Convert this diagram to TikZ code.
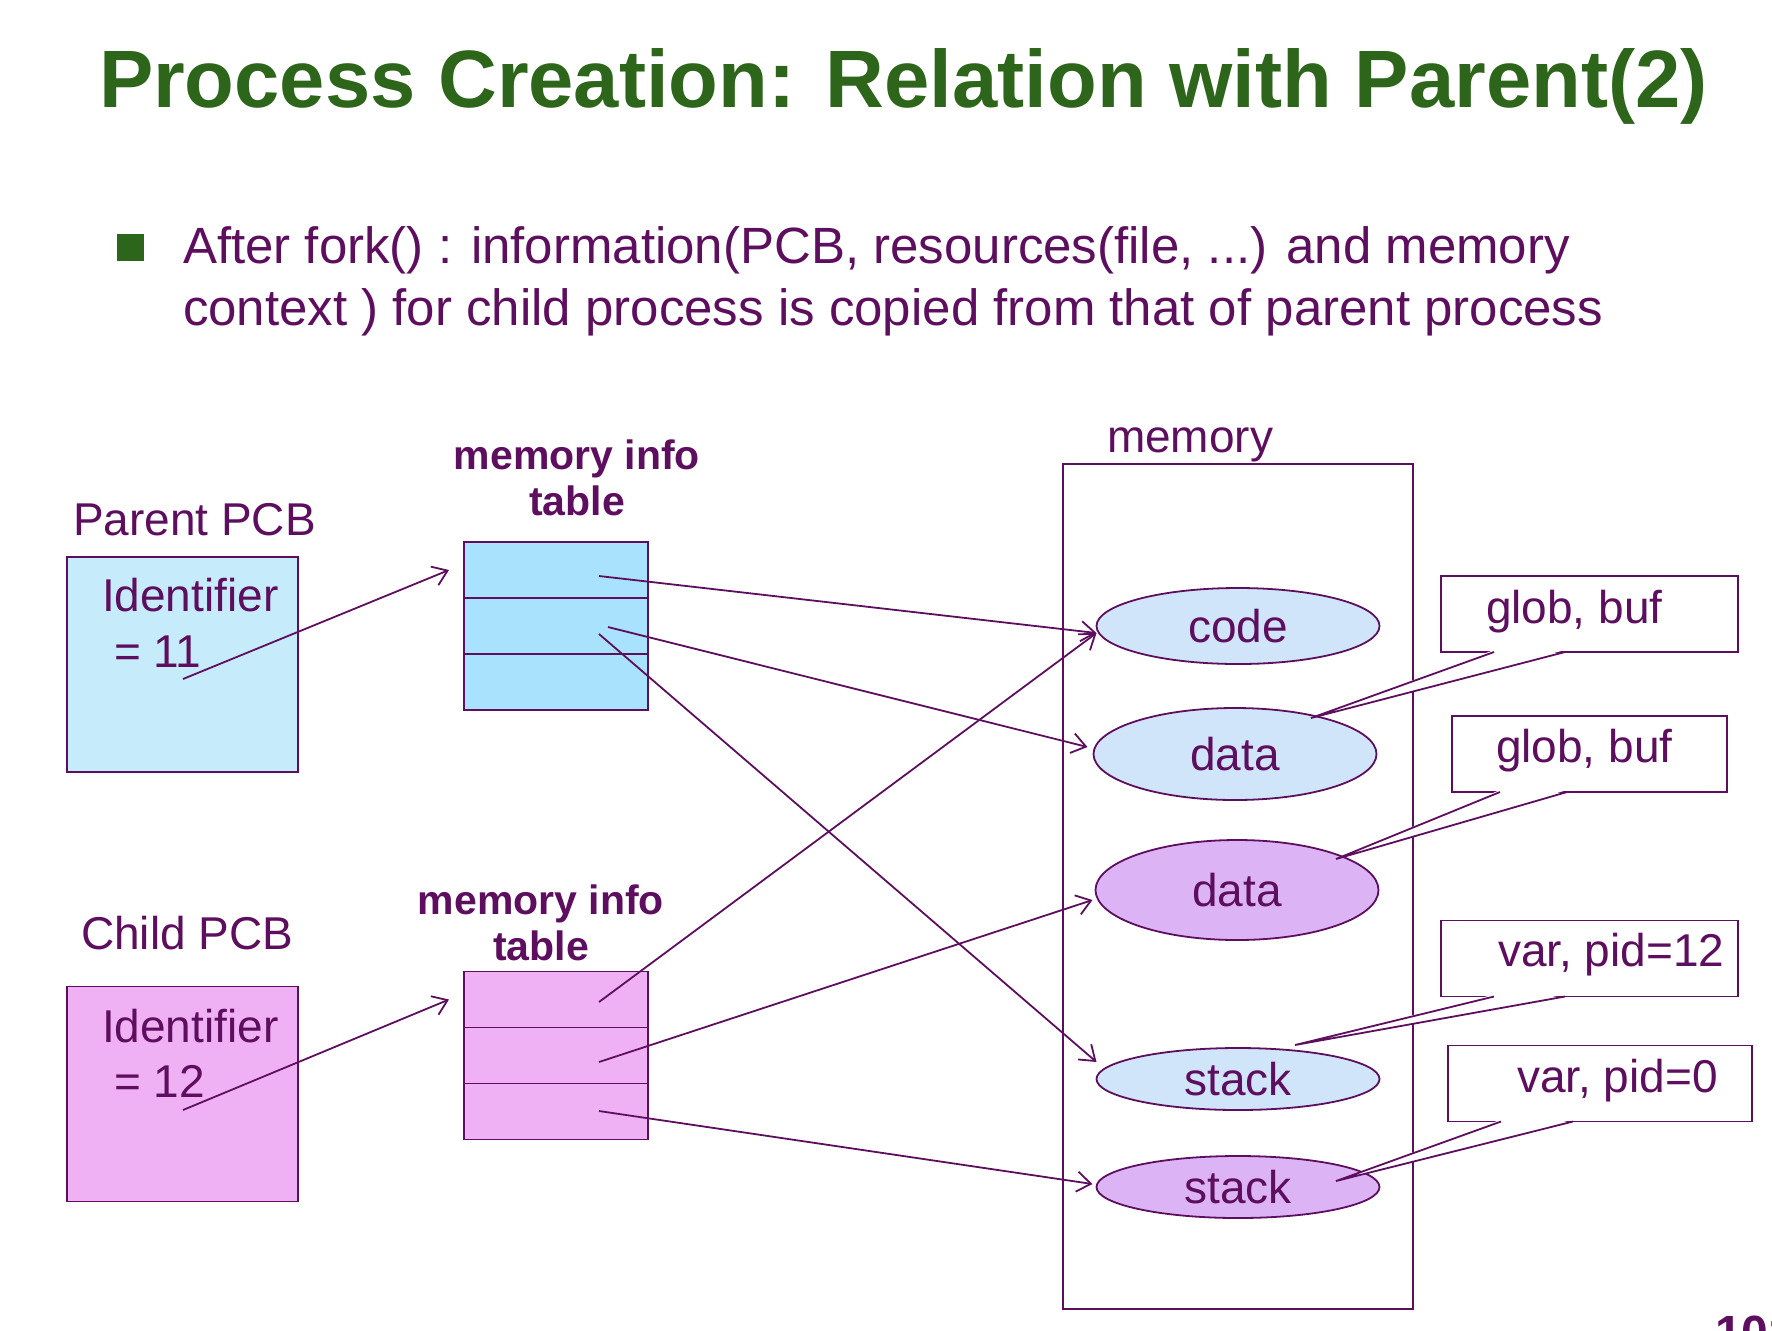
\documentclass[tikz,border=0pt]{standalone}
\usepackage{fontspec}
\setmainfont{Liberation Sans}
\usetikzlibrary{positioning,arrows.meta,shapes.geometric}

\definecolor{leaf}{RGB}{45,102,26}
\definecolor{ink}{RGB}{94,14,94}
\definecolor{pcbblue}{RGB}{198,236,252}
\definecolor{tabblue}{RGB}{168,226,252}
\definecolor{pcbpink}{RGB}{240,176,244}
\definecolor{segblue}{RGB}{208,228,250}
\definecolor{segpurple}{RGB}{220,180,246}

\begin{document}
\begin{tikzpicture}[x=0.5pt,y=-0.5pt,
      every node/.style={text=ink,inner sep=0pt,outer sep=0pt,font=\fontsize{23}{28}\selectfont},
      line/.style={draw=ink,line width=0.9pt},
      ptr/.style={line,-{Straight Barb[length=7pt,width=10pt]}},
      pcb/.style={line,minimum width=115.5pt,minimum height=107.5pt},
      row/.style={line,minimum width=92pt,minimum height=28pt},
      seg/.style={ellipse,line,minimum width=141.5pt},
      note/.style={line,fill=white,minimum height=38pt},
      tbl/.style={font=\fontsize{20.5}{23}\selectfont\bfseries,align=center}]
    \useasboundingbox (0,0) rectangle (1772,1330);

    % title and bullet
    \node[anchor=base west,text=leaf,font=\fontsize{40.7}{49}\selectfont\bfseries] (title) at (99,107) {Process Creation: Relation with Parent(2)};
    \node[fill=leaf,minimum size=13.5pt] (bul) at (130,247) {};
    \node[anchor=base west,font=\fontsize{25.5}{31}\selectfont] (line1) at (183,263) {After fork() : information(PCB, resources(file, ...) and memory};
    \node[anchor=base west,font=\fontsize{25.5}{31}\selectfont] (line2) at (183,325) {context ) for child process is copied from that of parent process};

    % parent side
    \node[anchor=base west] (plbl) at (73,535) {Parent PCB};
    \node[pcb,fill=pcbblue] (ppcb) at (182.5,664.5) {};
    \node[anchor=base west] (pid) at (102,611) {Identifier};
    \node[anchor=base west] (pidv) at (114,667) {= 11};
    \node[row,fill=tabblue] (pt1) at (556,570) {};
    \node[row,fill=tabblue,below=0pt of pt1] (pt2) {};
    \node[row,fill=tabblue,below=0pt of pt2] (pt3) {};
    \node[tbl,anchor=base] (ptlbl) at (577,515) {memory info\\table};

    % child side
    \node[anchor=base west] (clbl) at (81,949) {Child PCB};
    \node[pcb,fill=pcbpink] (cpcb) at (182.5,1094) {};
    \node[anchor=base west] (cid) at (102,1042) {Identifier};
    \node[anchor=base west] (cidv) at (114,1097) {= 12};
    \node[row,fill=pcbpink] (ct1) at (556,999.5) {};
    \node[row,fill=pcbpink,below=0pt of ct1] (ct2) {};
    \node[row,fill=pcbpink,below=0pt of ct2] (ct3) {};
    \node[tbl,anchor=base] (ctlbl) at (541,960) {memory info\\table};

    % memory
    \node[anchor=base west] (memlbl) at (1107,452) {memory};
    \node[line,minimum width=175pt,minimum height=422.5pt] (mem) at (1238,886.5) {};
    \node[seg,fill=segblue,minimum height=38pt] (code) at (1238,626) {code};
    \node[seg,fill=segblue,minimum height=46pt] (datap) at (1235,754) {data};
    \node[seg,fill=segpurple,minimum height=50pt] (datac) at (1237,890) {data};
    \node[seg,fill=segblue,minimum height=31pt] (stackp) at (1238,1079) {stack};
    \node[seg,fill=segpurple,minimum height=31pt] (stackc) at (1238,1187) {stack};

    % pointers
    \coordinate (pa) at (183,679);
    \coordinate (ca) at (183,1110);
    \coordinate (p1) at (599,576);
    \coordinate (p2) at (608,627);
    \coordinate (p3) at (599,634);
    \coordinate (c1) at (599,1002);
    \coordinate (c2) at (599,1062);
    \coordinate (c3) at (599,1111);
    \draw[ptr] (pa) -- ([xshift=-7.5pt]pt1.west);
    \draw[ptr] (ca) -- ([xshift=-7.5pt]ct1.west);
    \draw[ptr] (p1) -- ([yshift=-3.5pt]code.west);
    \draw[ptr] (p2) -- ([xshift=-3pt,yshift=3.5pt]datap.west);
    \draw[ptr] (p3) -- ([yshift=8.5pt]stackp.west);
    \draw[ptr] (c1) -- ([yshift=-3.5pt]code.west);
    \draw[ptr] (c2) -- ([xshift=-1.5pt,yshift=-5pt]datac.west);
    \draw[ptr] (c3) -- ([xshift=-2pt,yshift=1.5pt]stackc.west);

    % notes
    \node[note,minimum width=148.5pt] (n1) at (1589.5,614) {};
    \fill[white] ([xshift=26.5pt,yshift=1pt]n1.south west) -- ([xshift=38pt,yshift=18pt]datap.center) -- ([xshift=62pt,yshift=1pt]n1.south west) -- cycle;
    \draw[line] ([xshift=26.5pt]n1.south west) -- ([xshift=38pt,yshift=18pt]datap.center) -- ([xshift=62pt]n1.south west);
    \node[anchor=base west] (n1t) at (1486,623) {glob, buf};

    \node[note,minimum width=137.5pt] (n2) at (1589.5,754) {};
    \fill[white] ([xshift=24pt,yshift=1pt]n2.south west) -- ([xshift=49.5pt,yshift=15.5pt]datac.center) -- ([xshift=57.5pt,yshift=1pt]n2.south west) -- cycle;
    \draw[line] ([xshift=24pt]n2.south west) -- ([xshift=49.5pt,yshift=15.5pt]datac.center) -- ([xshift=57.5pt]n2.south west);
    \node[anchor=base west] (n2t) at (1496,762) {glob, buf};

    \node[note,minimum width=148.5pt] (n3) at (1589.5,958.5) {};
    \fill[white] ([xshift=26.5pt,yshift=1pt]n3.south west) -- ([xshift=28.5pt,yshift=17pt]stackp.center) -- ([xshift=62pt,yshift=1pt]n3.south west) -- cycle;
    \draw[line] ([xshift=26.5pt]n3.south west) -- ([xshift=28.5pt,yshift=17pt]stackp.center) -- ([xshift=62pt]n3.south west);
    \node[anchor=base west] (n3t) at (1498,966) {var, pid=12};

    \node[note,minimum width=152pt] (n4) at (1600,1083.5) {};
    \fill[white] ([xshift=26.5pt,yshift=1pt]n4.south west) -- ([xshift=49pt,yshift=3pt]stackc.center) -- ([xshift=62.5pt,yshift=1pt]n4.south west) -- cycle;
    \draw[line] ([xshift=26.5pt]n4.south west) -- ([xshift=49pt,yshift=3pt]stackc.center) -- ([xshift=62.5pt]n4.south west);
    \node[anchor=base west] (n4t) at (1517,1092) {var, pid=0};

    \node[anchor=base west,font=\fontsize{24}{28}\selectfont\bfseries] (pgno) at (1715,1349) {101};
\end{tikzpicture}
\end{document}
